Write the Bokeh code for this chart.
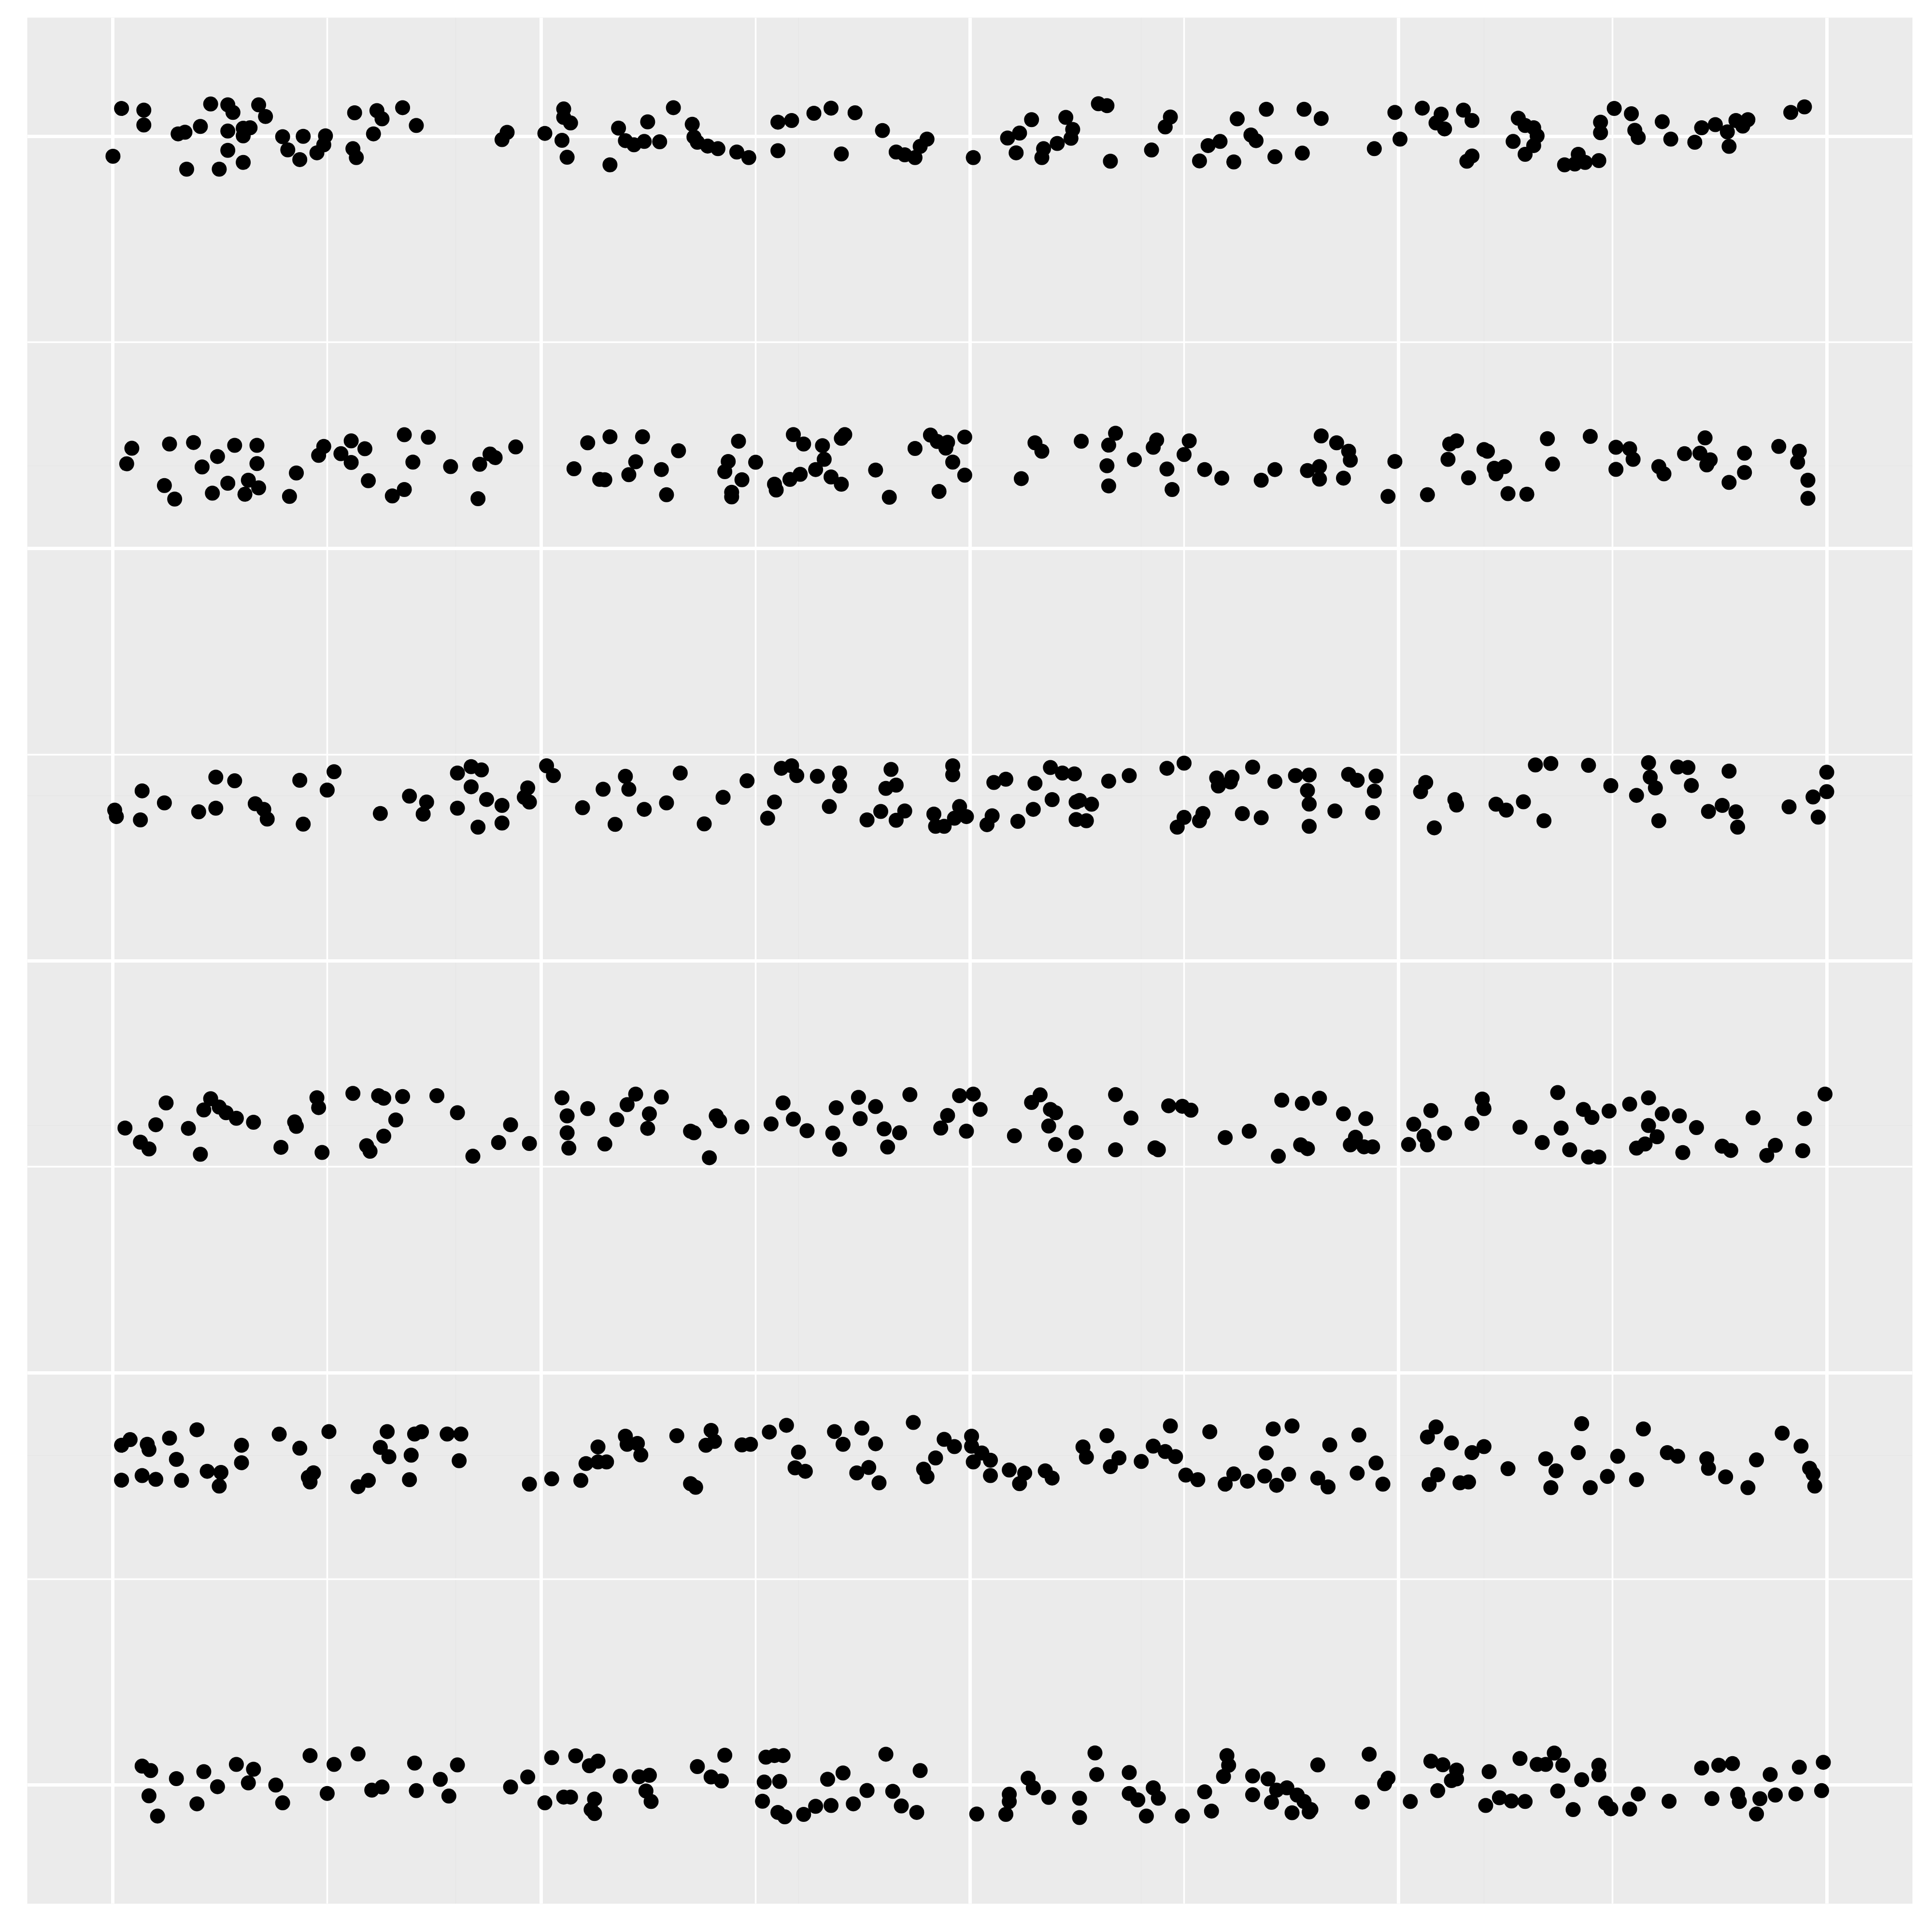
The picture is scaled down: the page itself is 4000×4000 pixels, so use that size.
import sys
from bokeh.plotting import figure
from bokeh.models import Range1d, Grid, FixedTicker, ColumnDataSource
from bokeh.embed import file_html
from bokeh.resources import INLINE

# ---- data: six jittered strips (x in [0,1], y = group value + jitter) ----
row1_x = [0.005, 0.018, 0.018, 0.000, 0.038, 0.042, 0.051, 0.057, 0.067, 0.070, 0.085, 0.089, 0.067, 0.076, 0.080, 0.076, 0.067, 0.043, 0.062, 0.076,
          0.099, 0.102, 0.111, 0.109, 0.124, 0.123, 0.119, 0.141, 0.154, 0.157, 0.169, 0.177, 0.152, 0.140, 0.142, 0.230, 0.227, 0.252, 0.263, 0.263,
          0.267, 0.262, 0.265, 0.290, 0.295, 0.299, 0.304, 0.310, 0.312, 0.319, 0.327, 0.338, 0.339, 0.341, 0.347, 0.353, 0.364, 0.371, 0.388, 0.396,
          0.409, 0.419, 0.433, 0.449, 0.388, 0.425, 0.457, 0.462, 0.468, 0.471, 0.475,
          0.502, 0.522, 0.529, 0.527, 0.536, 0.543, 0.542, 0.551, 0.556, 0.560, 0.559, 0.575, 0.580, 0.582, 0.617, 0.614, 0.606, 0.634, 0.639, 0.646,
          0.654, 0.656, 0.664, 0.667, 0.673, 0.678, 0.694, 0.695, 0.705, 0.736, 0.748, 0.751, 0.764, 0.775, 0.772, 0.777, 0.788, 0.793, 0.793, 0.790,
          0.820, 0.824, 0.829, 0.831, 0.817, 0.829, 0.824, 0.847, 0.855, 0.853, 0.859, 0.867, 0.876, 0.886, 0.868, 0.868, 0.888, 0.890, 0.904, 0.909,
          0.923, 0.927, 0.935, 0.942, 0.943, 0.947, 0.954, 0.951, 0.979, 0.987]
row1_y = [1.0169, 1.0159, 1.0069, 0.9879, 1.0015, 1.0025, 1.0060, 1.0196, 1.0191, 1.0145, 1.0191, 1.0120, 1.0032, 1.0049, 1.0052, 1.0003, 0.9915, 0.9801, 0.9801, 0.9842,
          0.9998, 0.9918, 1.0000, 0.9859, 1.0003, 0.9949, 0.9900, 1.0143, 1.0156, 1.0106, 1.0174, 1.0066, 1.0015, 0.9925, 0.9871, 1.0024, 0.9980, 1.0018, 1.0166, 1.0115,
          1.0081, 0.9976, 0.9873, 0.9827, 1.0050, 0.9974, 0.9949, 0.9969, 1.0088, 0.9967, 1.0174, 1.0073, 0.9996, 0.9964, 0.9941, 0.9925, 0.9905, 0.9871, 1.0086, 1.0096,
          1.0140, 1.0171, 1.0143, 1.0035, 0.9913, 0.9893, 0.9905, 0.9888, 0.9871, 0.9939, 0.9983,
          0.9871, 0.9990, 1.0020, 0.9900, 1.0101, 0.9925, 0.9871, 0.9957, 1.0115, 1.0042, 0.9988, 1.0198, 1.0186, 0.9849, 1.0117, 1.0057, 0.9917, 0.9851, 0.9944, 0.9969,
          0.9845, 1.0106, 1.0008, 0.9974, 1.0164, 0.9876, 0.9898, 1.0164, 1.0108, 0.9925, 1.0145, 0.9983, 1.0171, 1.0135, 1.0081, 1.0045, 1.0159, 1.0096, 0.9881, 0.9849,
          1.0110, 1.0066, 1.0052, 1.0003, 0.9969, 0.9944, 0.9891, 0.9827, 0.9891, 0.9832, 0.9842, 0.9853, 1.0169, 1.0137, 1.0086, 1.0022, 1.0037, 0.9993, 1.0089, 0.9983,
          0.9964, 1.0052, 1.0071, 1.0027, 0.9939, 1.0096, 1.0101, 1.0062, 1.0145, 1.0179]

row2_x = [0.011, 0.008, 0.033, 0.047, 0.071, 0.084, 0.061, 0.052, 0.084, 0.030, 0.036, 0.058, 0.067, 0.079, 0.077, 0.085, 0.107, 0.103, 0.123, 0.120,
          0.139, 0.133, 0.147, 0.139, 0.170, 0.184, 0.175, 0.149, 0.170, 0.163, 0.197, 0.214, 0.220, 0.223, 0.235, 0.213, 0.277, 0.290, 0.309, 0.269,
          0.284, 0.287, 0.301, 0.305, 0.320, 0.330, 0.323, 0.365, 0.359, 0.357, 0.375, 0.367, 0.361, 0.361, 0.397, 0.403, 0.414, 0.427, 0.425, 0.415,
          0.410, 0.401, 0.395, 0.386, 0.387, 0.419, 0.425, 0.445, 0.453, 0.468, 0.477, 0.481, 0.486, 0.487, 0.490, 0.497, 0.497, 0.482,
          0.538, 0.542, 0.530, 0.565, 0.585, 0.581, 0.580, 0.581, 0.596, 0.609, 0.607, 0.628, 0.625, 0.615, 0.618, 0.637, 0.647, 0.670, 0.678, 0.697,
          0.704, 0.704, 0.705, 0.714, 0.721, 0.722, 0.718, 0.748, 0.744, 0.767, 0.784, 0.780, 0.779, 0.800, 0.802, 0.791, 0.806, 0.812, 0.807, 0.814,
          0.825, 0.837, 0.862, 0.840, 0.877, 0.885, 0.887, 0.877, 0.902, 0.905, 0.917, 0.926, 0.932, 0.930, 0.929, 0.952, 0.952, 0.943, 0.972, 0.984,
          0.983, 0.989, 0.989]
row2_y = [0.8108, 0.8014, 0.8134, 0.8143, 0.8126, 0.8126, 0.8058, 0.7995, 0.8015, 0.7882, 0.7800, 0.7836, 0.7896, 0.7914, 0.7829, 0.7868, 0.7958, 0.7816, 0.8119, 0.8065,
          0.8153, 0.8075, 0.8105, 0.8022, 0.8190, 0.8175, 0.8024, 0.7911, 0.7858, 0.7819, 0.7997, 0.8011, 0.8073, 0.8051, 0.8116, 0.7802, 0.8141, 0.8178, 0.8178, 0.7984,
          0.7919, 0.7917, 0.7948, 0.8026, 0.7979, 0.8093, 0.7826, 0.8151, 0.8028, 0.7966, 0.8023, 0.7917, 0.7841, 0.7813, 0.8191, 0.8134, 0.8124, 0.8191, 0.8168, 0.8041,
          0.7979, 0.7950, 0.7919, 0.7890, 0.7855, 0.7934, 0.7890, 0.7976, 0.7811, 0.8107, 0.8188, 0.8149, 0.8109, 0.8144, 0.8024, 0.7945, 0.8176, 0.7846,
          0.8141, 0.8090, 0.7924, 0.8151, 0.8199, 0.8127, 0.8002, 0.7880, 0.8039, 0.8158, 0.8114, 0.8153, 0.8070, 0.7982, 0.7858, 0.7979, 0.7927, 0.7914, 0.7979, 0.7973,
          0.7997, 0.7921, 0.8183, 0.8141, 0.8090, 0.8036, 0.7927, 0.8028, 0.7816, 0.7826, 0.8153, 0.8134, 0.8041, 0.8100, 0.8090, 0.7929, 0.7987, 0.7997, 0.7953, 0.7833,
          0.7829, 0.8166, 0.8180, 0.8012, 0.8114, 0.8105, 0.8041, 0.7980, 0.7997, 0.7953, 0.8075, 0.8078, 0.8038, 0.8007, 0.8171, 0.8078, 0.7961, 0.7901, 0.8119, 0.8090,
          0.8024, 0.7914, 0.7804]

row3_x = [0.001, 0.002, 0.016, 0.017, 0.030, 0.050, 0.060, 0.060, 0.071, 0.083, 0.088, 0.090, 0.109, 0.111, 0.129, 0.125, 0.156, 0.173, 0.183, 0.181,
          0.201, 0.209, 0.215, 0.209, 0.201, 0.218, 0.227, 0.227, 0.213, 0.242, 0.240, 0.243, 0.253, 0.257, 0.286, 0.299, 0.301, 0.274, 0.293, 0.310,
          0.323, 0.331, 0.356, 0.345, 0.370, 0.390, 0.396, 0.399, 0.411, 0.424, 0.424, 0.386, 0.382, 0.454, 0.451, 0.457, 0.418, 0.448, 0.462, 0.440,
          0.457, 0.490, 0.490, 0.494, 0.479, 0.491, 0.480, 0.485, 0.498,
          0.513, 0.510, 0.514, 0.521, 0.528, 0.538, 0.537, 0.547, 0.554, 0.561, 0.548, 0.562, 0.564, 0.571, 0.562, 0.568, 0.581, 0.593, 0.615,
          0.625, 0.625, 0.621, 0.636, 0.634, 0.644, 0.645, 0.653, 0.652, 0.665, 0.659, 0.670, 0.678, 0.690, 0.698, 0.697, 0.698, 0.698, 0.713, 0.721,
          0.726, 0.737, 0.736, 0.735, 0.766, 0.763, 0.783, 0.784, 0.771, 0.807, 0.813, 0.823, 0.830, 0.839, 0.861, 0.835, 0.874, 0.896, 0.897, 0.900,
          0.889, 0.913, 0.919, 0.921, 0.902, 0.943, 0.931, 0.939, 0.947, 0.948, 0.978, 0.992, 1.000, 1.000, 0.995]
row3_y = [0.5913, 0.5874, 0.5854, 0.6030, 0.5957, 0.5903, 0.5925, 0.6113, 0.6091, 0.5952, 0.5918, 0.5859, 0.6094, 0.5828, 0.6146, 0.6035, 0.5893, 0.5998, 0.5962, 0.5889,
          0.6138, 0.6177, 0.6157, 0.6055, 0.5925, 0.5978, 0.5942, 0.5835, 0.5810, 0.6048, 0.5991, 0.5962, 0.6182, 0.6123, 0.6040, 0.6118, 0.6040, 0.5928, 0.5827, 0.5918,
          0.5957, 0.6138, 0.5991, 0.5830, 0.6091, 0.6167, 0.6182, 0.6123, 0.6118, 0.6138, 0.6060, 0.5962, 0.5864, 0.6160, 0.6045, 0.6065, 0.5935, 0.5905, 0.5908, 0.5854,
          0.5852, 0.6182, 0.6128, 0.5935, 0.5889, 0.5864, 0.5815, 0.5815, 0.5874,
          0.5879, 0.5825, 0.6081, 0.6101, 0.5845, 0.6076, 0.5918, 0.6172, 0.6138, 0.6133, 0.5977, 0.5962, 0.5972, 0.5949, 0.5856, 0.5849, 0.6089, 0.6123, 0.6167,
          0.6198, 0.5869, 0.5810, 0.5893, 0.5849, 0.6108, 0.6060, 0.6113, 0.6084, 0.6174, 0.5892, 0.5867, 0.6087, 0.6123, 0.6126, 0.6032, 0.5950, 0.5815, 0.5908, 0.6130,
          0.6094, 0.6120, 0.6028, 0.5898, 0.6081, 0.6025, 0.5977, 0.5944, 0.5806, 0.5949, 0.5913, 0.5964, 0.6187, 0.6196, 0.6185, 0.5849, 0.6062, 0.6201, 0.6113, 0.6048,
          0.6003, 0.6175, 0.6172, 0.6063, 0.5849, 0.6150, 0.5905, 0.5942, 0.5903, 0.5810, 0.5933, 0.5993, 0.6025, 0.6143, 0.5871]

row4_x = [0.007, 0.016, 0.021, 0.025, 0.031, 0.044, 0.051, 0.057, 0.053, 0.062, 0.066, 0.072, 0.082, 0.106, 0.107, 0.098, 0.119, 0.120, 0.122, 0.140,
          0.155, 0.158, 0.169, 0.189, 0.165, 0.158, 0.148, 0.150, 0.201, 0.210, 0.232, 0.225, 0.243, 0.262, 0.277, 0.265, 0.265, 0.266, 0.287,
          0.305, 0.300, 0.320, 0.294, 0.313, 0.312, 0.337, 0.339, 0.352, 0.354, 0.367, 0.348, 0.391, 0.384, 0.397, 0.405, 0.420, 0.424, 0.435, 0.445,
          0.422, 0.436, 0.450, 0.459, 0.452, 0.465, 0.494, 0.487, 0.483, 0.498,
          0.502, 0.506, 0.541, 0.536, 0.547, 0.550, 0.546, 0.526, 0.562, 0.550, 0.561, 0.585, 0.594, 0.585, 0.608, 0.610, 0.616, 0.624, 0.629, 0.649,
          0.663, 0.682, 0.694, 0.704, 0.718, 0.731, 0.693, 0.697, 0.680, 0.725, 0.722, 0.730, 0.735, 0.756, 0.759, 0.765, 0.767, 0.769, 0.777, 0.799,
          0.800, 0.793, 0.821, 0.843, 0.845, 0.834, 0.850, 0.858, 0.863, 0.873, 0.861, 0.867, 0.885, 0.896, 0.904, 0.914, 0.896, 0.901, 0.894, 0.889,
          0.924, 0.916, 0.939, 0.944, 0.957, 0.970, 0.965, 0.987, 0.986, 0.999]
row4_y = [0.3985, 0.3899, 0.3858, 0.4005, 0.4137, 0.3983, 0.3826, 0.4163, 0.4095, 0.4112, 0.4078, 0.4044, 0.4020, 0.4022, 0.3995, 0.3868, 0.4169, 0.4109, 0.3837, 0.4195,
          0.4181, 0.4166, 0.4176, 0.4181, 0.4034, 0.3936, 0.3878, 0.3844, 0.4078, 0.3814, 0.4005, 0.3897, 0.3891, 0.4168, 0.4103, 0.4059, 0.3956, 0.3863, 0.3888,
          0.4191, 0.4127, 0.4173, 0.4036, 0.4071, 0.3983, 0.3966, 0.3956, 0.4059, 0.4029, 0.3992, 0.3805, 0.4137, 0.4010, 0.4039, 0.3969, 0.3954, 0.3856, 0.4171, 0.4115,
          0.4108, 0.4042, 0.3980, 0.3956, 0.3870, 0.4188, 0.4181, 0.4061, 0.3985, 0.3966,
          0.4191, 0.4098, 0.4186, 0.4140, 0.4098, 0.4078, 0.3997, 0.3938, 0.3958, 0.3885, 0.3817, 0.4188, 0.4046, 0.3853, 0.3865, 0.3853, 0.4120, 0.4117, 0.4093, 0.3927,
          0.3966, 0.4154, 0.4134, 0.4166, 0.4071, 0.4042, 0.3883, 0.3860, 0.3814, 0.3929, 0.3883, 0.3871, 0.3871, 0.3885, 0.4008, 0.3936, 0.3883, 0.4091, 0.3954, 0.4161,
          0.4103, 0.4013, 0.3990, 0.4200, 0.3985, 0.3897, 0.3853, 0.4098, 0.4049, 0.4088, 0.3809, 0.3809, 0.4130, 0.4168, 0.4071, 0.4059, 0.4000, 0.3932, 0.3888, 0.3863,
          0.3988, 0.3836, 0.3875, 0.3849, 0.4047, 0.3880, 0.3819, 0.4042, 0.3847, 0.4191]

row5_x = [0.005, 0.010, 0.020, 0.021, 0.033, 0.049, 0.037, 0.005, 0.017, 0.025, 0.040, 0.055, 0.063, 0.062, 0.075, 0.075, 0.097, 0.109, 0.126, 0.117,
          0.114, 0.115, 0.160, 0.176, 0.180, 0.195, 0.203, 0.156, 0.161, 0.174, 0.202, 0.149, 0.143, 0.173, 0.243, 0.256, 0.273, 0.276, 0.283, 0.288,
          0.283, 0.299, 0.300, 0.306, 0.308, 0.329, 0.349, 0.346, 0.351, 0.367, 0.372, 0.337, 0.340, 0.383, 0.393, 0.400, 0.398, 0.404, 0.421, 0.437,
          0.426, 0.445, 0.434, 0.441, 0.447, 0.467, 0.485, 0.491, 0.480, 0.473, 0.475,
          0.501, 0.501, 0.507, 0.502, 0.512, 0.512, 0.523, 0.532, 0.529, 0.544, 0.548, 0.566, 0.568, 0.580, 0.587, 0.582, 0.600, 0.607, 0.614, 0.620,
          0.617, 0.640, 0.626, 0.633, 0.654, 0.649, 0.662, 0.673, 0.677, 0.688, 0.672, 0.679, 0.686, 0.703, 0.709, 0.710, 0.727, 0.737, 0.726, 0.741,
          0.772, 0.767, 0.781, 0.800, 0.793, 0.773, 0.768, 0.786, 0.791, 0.814, 0.836, 0.842, 0.839, 0.857, 0.855, 0.872, 0.862, 0.878, 0.889, 0.893,
          0.907, 0.913, 0.930, 0.931, 0.941, 0.959, 0.954, 0.974, 0.985, 0.990, 0.992, 0.993]
row5_y = [0.2061, 0.2095, 0.2067, 0.2035, 0.2104, 0.2155, 0.1975, 0.1849, 0.1877, 0.1854, 0.1848, 0.1903, 0.1896, 0.1813, 0.2061, 0.1955, 0.2128, 0.2043, 0.2144, 0.1894,
          0.1867, 0.1838, 0.2144, 0.2129, 0.2143, 0.2129, 0.2129, 0.2048, 0.1991, 0.2001, 0.1967, 0.1848, 0.1810, 0.1852, 0.1825, 0.1857, 0.1848, 0.1950, 0.1960, 0.1960,
          0.2051, 0.2116, 0.2067, 0.2072, 0.2002, 0.2119, 0.2151, 0.2061, 0.2084, 0.2063, 0.2067, 0.1828, 0.1806, 0.2141, 0.2182, 0.2019, 0.1924, 0.1903, 0.2144, 0.2165,
          0.2067, 0.2070, 0.1893, 0.1926, 0.1833, 0.2199, 0.2097, 0.2053, 0.1984, 0.1916, 0.1870,
          0.2116, 0.2055, 0.2014, 0.1960, 0.1970, 0.1877, 0.1911, 0.1892, 0.1828, 0.1906, 0.1862, 0.2051, 0.1989, 0.2119, 0.1984, 0.1931, 0.1963, 0.2056, 0.2023, 0.1992,
          0.2178, 0.2143, 0.1880, 0.1852, 0.1887, 0.1825, 0.1843, 0.2014, 0.2160, 0.2178, 0.1874, 0.1818, 0.1885, 0.1862, 0.1808, 0.2063, 0.2123, 0.1953, 0.1892, 0.1825,
          0.2172, 0.2111, 0.2075, 0.2053, 0.2016, 0.1882, 0.1823, 0.1833, 0.1838, 0.1919, 0.1979, 0.1906, 0.1804, 0.2192, 0.2016, 0.1872, 0.1804, 0.1994, 0.1852, 0.2160,
          0.2016, 0.1994, 0.1979, 0.1921, 0.1869, 0.1972, 0.1804, 0.2134, 0.2056, 0.1921, 0.1887, 0.1813]

row6_x = [0.017, 0.022, 0.037, 0.021, 0.026, 0.053, 0.061, 0.049, 0.072, 0.082, 0.079, 0.095, 0.099, 0.115, 0.129, 0.143, 0.125, 0.151, 0.157, 0.176,
          0.177, 0.191, 0.201, 0.196, 0.232, 0.242, 0.256, 0.270, 0.283, 0.278, 0.252, 0.263, 0.267, 0.281, 0.279, 0.281, 0.296, 0.307, 0.313, 0.311,
          0.314, 0.341, 0.357, 0.349, 0.355, 0.381, 0.386, 0.391, 0.380, 0.389, 0.379, 0.388, 0.392, 0.403, 0.410, 0.419, 0.417, 0.426, 0.432, 0.440,
          0.451, 0.455, 0.460, 0.469, 0.471,
          0.504, 0.521, 0.523, 0.523, 0.534, 0.537, 0.546, 0.564, 0.564, 0.573, 0.574, 0.593, 0.593, 0.598, 0.607, 0.610, 0.603, 0.624, 0.637, 0.641,
          0.650, 0.651, 0.648, 0.665, 0.674, 0.665, 0.676, 0.679, 0.685, 0.691, 0.695, 0.699, 0.688, 0.698, 0.703, 0.733, 0.744, 0.742, 0.729, 0.757,
          0.769, 0.776, 0.784, 0.784, 0.781, 0.773, 0.803, 0.801, 0.809, 0.816, 0.824, 0.821, 0.831, 0.836, 0.841, 0.846, 0.843, 0.857, 0.867, 0.867,
          0.852, 0.871, 0.874, 0.885, 0.890, 0.908, 0.927, 0.937, 0.945, 0.933, 0.948, 0.949, 0.959, 0.961, 0.970, 0.967, 0.984, 0.982, 0.998, 0.997]
row6_y = [0.0115, 0.0088, 0.0039, -0.0065, -0.0188, 0.0081, -0.0010, -0.0114, 0.0125, 0.0096, 0.0013, 0.0000, -0.0108, 0.0179, 0.0125, 0.0189, -0.0051, -0.0031, -0.0012, 0.0133,
          -0.0034, 0.0034, 0.0122, -0.0067, -0.0012, 0.0049, 0.0166, 0.0177, 0.0145, 0.0117, -0.0108, -0.0073, -0.0073, -0.0085, -0.0149, -0.0173, 0.0054, 0.0050, 0.0059, -0.0036,
          -0.0100, 0.0112, 0.0181, 0.0049, 0.0025, 0.0169, 0.0179, 0.0179, 0.0018, 0.0022, -0.0098, -0.0166, -0.0193, -0.0178, -0.0129, -0.0124, 0.0035, 0.0073, -0.0114, -0.0033,
          0.0187, -0.0038, -0.0127, -0.0166, 0.0088,
          -0.0176, -0.0178, -0.0056, -0.0100, 0.0042, -0.0017, -0.0075, -0.0080, -0.0197, 0.0195, 0.0064, 0.0076, -0.0051, -0.0090, -0.0017, -0.0080, -0.0188, -0.0188, -0.0041, -0.0158,
          0.0179, 0.0120, 0.0052, 0.0055, 0.0037, -0.0059, -0.0105, -0.0031, -0.0017, -0.0061, -0.0100, -0.0149, -0.0168, -0.0163, 0.0122, 0.0187, 0.0042, 0.0008, -0.0103, -0.0100,
          0.0145, 0.0123, 0.0091, 0.0037, 0.0027, -0.0034, 0.0081, -0.0124, -0.0077, -0.0097, -0.0100, 0.0161, 0.0125, 0.0125, 0.0194, 0.0120, -0.0036, 0.0032, 0.0120, 0.0062,
          -0.0149, -0.0109, -0.0144, -0.0146, -0.0054, -0.0098, 0.0103, 0.0120, 0.0130, -0.0082, -0.0056, -0.0100, -0.0176, -0.0083, -0.0061, 0.0064, 0.0108, -0.0054, 0.0138, -0.0034]

x_major = [0.0, 0.25, 0.5, 0.75, 1.0]
x_minor = [0.125, 0.375, 0.625, 0.875]
y_major = [0.0, 0.25, 0.5, 0.75, 1.0]
y_minor = [0.125, 0.375, 0.625, 0.875]

# ---- figure ----
p = figure(width=4000, height=4000,
           x_range=Range1d(-0.05, 1.05), y_range=Range1d(-0.072, 1.072),
           x_axis_location=None, y_axis_location=None,
           toolbar_location=None, output_backend="svg",
           min_border_left=56, min_border_right=41, min_border_top=36, min_border_bottom=59,
           background_fill_color="#EBEBEB", border_fill_color="white",
           outline_line_color=None)

xg = Grid(dimension=0, ticker=FixedTicker(ticks=x_major, minor_ticks=x_minor),
          grid_line_color="white", grid_line_width=7,
          minor_grid_line_color="white", minor_grid_line_width=3.5)
yg = Grid(dimension=1, ticker=FixedTicker(ticks=y_major, minor_ticks=y_minor),
          grid_line_color="white", grid_line_width=7,
          minor_grid_line_color="white", minor_grid_line_width=3.5)
p.add_layout(xg)
p.add_layout(yg)

xs, ys = [], []
for rx, ry in [(row1_x, row1_y), (row2_x, row2_y), (row3_x, row3_y),
               (row4_x, row4_y), (row5_x, row5_y), (row6_x, row6_y)]:
    n = min(len(rx), len(ry))
    if len(rx) != len(ry):
        print("length mismatch", len(rx), len(ry), file=sys.stderr)
    xs.extend(rx[:n])
    ys.extend(ry[:n])

src = ColumnDataSource(dict(x=xs, y=ys))
p.scatter("x", "y", source=src, size=31, fill_color="black", line_color=None)

open("out.html", "w").write(file_html(p, INLINE))
